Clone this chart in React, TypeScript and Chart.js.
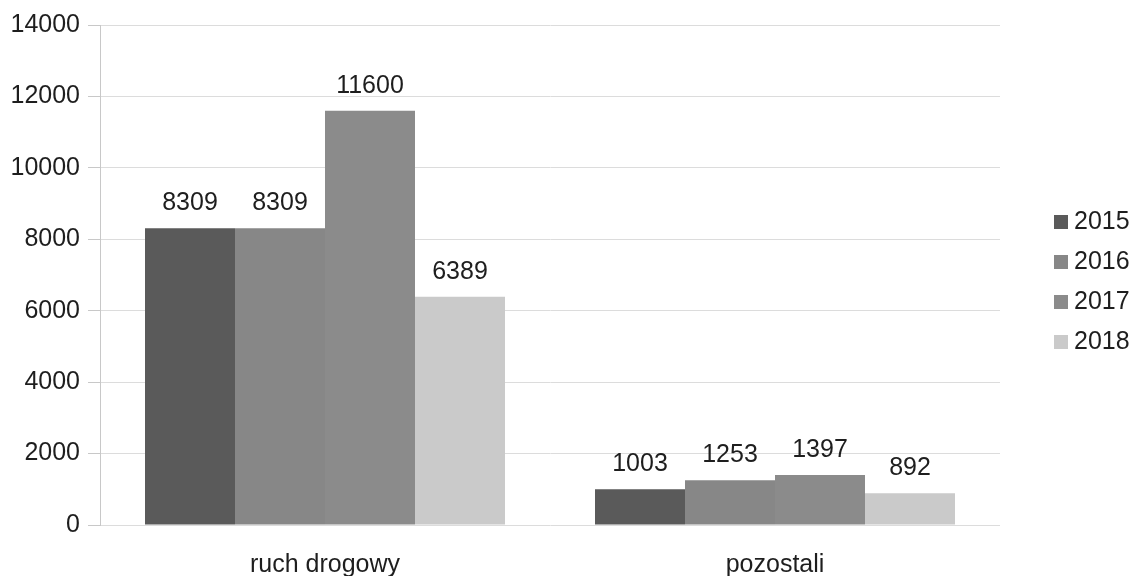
import React, { useEffect, useRef } from "react";
import { Chart, registerables } from "chart.js";

Chart.register(...registerables);

const categories = ["ruch drogowy", "pozostali"];
const seriesNames = ["2015", "2016", "2017", "2018"];
const values2015 = [8309, 1003];
const values2016 = [8309, 1253];
const values2017 = [11600, 1397];
const values2018 = [6389, 892];
const seriesColors = ["#5a5a5a", "#878787", "#8b8b8b", "#cacaca"];
const yTicks = [0, 2000, 4000, 6000, 8000, 10000, 12000, 14000];

const FONT = "'Liberation Sans', Arial, sans-serif";
const FONT_SIZE = 25;

const dataLabelPlugin = {
  id: "dataLabels",
  afterDatasetsDraw(chart: any) {
    const ctx = chart.ctx;
    ctx.save();
    ctx.font = `${FONT_SIZE}px ${FONT}`;
    ctx.fillStyle = "#1e1e1e";
    ctx.textAlign = "center";
    ctx.textBaseline = "middle";
    chart.data.datasets.forEach((ds: any, i: number) => {
      const meta = chart.getDatasetMeta(i);
      meta.data.forEach((el: any, j: number) => {
        ctx.fillText(String(ds.data[j]), el.x, el.y - 25);
      });
    });
    ctx.restore();
  },
};

const legendPlugin = {
  id: "customLegend",
  afterDraw(chart: any) {
    const ctx = chart.ctx;
    ctx.save();
    ctx.font = `${FONT_SIZE}px ${FONT}`;
    ctx.textAlign = "left";
    ctx.textBaseline = "middle";
    const x0 = chart.chartArea.right + 54;
    const yStart = 222;
    const step = 40;
    chart.data.datasets.forEach((ds: any, i: number) => {
      const y = yStart + i * step;
      ctx.fillStyle = ds.backgroundColor;
      ctx.fillRect(x0, y - 7, 14, 14);
      ctx.fillStyle = "#1e1e1e";
      ctx.fillText(ds.label, x0 + 20, y);
    });
    ctx.restore();
  },
};

export default function App() {
  const canvasRef = useRef<HTMLCanvasElement | null>(null);

  useEffect(() => {
    if (!canvasRef.current) return;
    const seriesValues = [values2015, values2016, values2017, values2018];
    const chart = new Chart(canvasRef.current, {
      type: "bar",
      data: {
        labels: categories,
        datasets: seriesNames.map((name, i) => ({
          label: name,
          data: seriesValues[i],
          backgroundColor: seriesColors[i],
          borderWidth: 0,
          barPercentage: 1,
          categoryPercentage: 0.8,
        })),
      },
      options: {
        animation: false,
        responsive: true,
        maintainAspectRatio: false,
        devicePixelRatio: 1,
        layout: { padding: { left: 12, right: 141, top: 25, bottom: 0 } },
        plugins: {
          legend: { display: false },
          tooltip: { enabled: false },
        },
        scales: {
          x: {
            grid: { display: false, drawTicks: false },
            border: { display: false },
            afterFit(scale: any) {
              scale.height = 51;
            },
            ticks: {
              color: "#1e1e1e",
              padding: 28,
              font: { family: FONT, size: FONT_SIZE, lineHeight: 1 },
            },
          },
          y: {
            min: 0,
            max: 14000,
            afterBuildTicks(scale: any) {
              scale.ticks = yTicks.map((v) => ({ value: v }));
            },
            afterFit(scale: any) {
              scale.width = 88;
            },
            grid: {
              color: "#dcdcdc",
              lineWidth: 1,
              tickLength: 12,
              tickColor: "#c8c8c8",
            },
            border: { display: true, color: "#c8c8c8" },
            ticks: {
              color: "#1e1e1e",
              padding: 8,
              callback: (v: any) => String(v),
              font: { family: FONT, size: FONT_SIZE, lineHeight: 1 },
            },
          },
        },
      },
      plugins: [dataLabelPlugin, legendPlugin],
    });
    return () => chart.destroy();
  }, []);

  return (
    <div
      style={{
        position: "fixed",
        left: 0,
        top: 0,
        width: 1141,
        height: 576,
        background: "#ffffff",
      }}
    >
      <canvas ref={canvasRef} />
    </div>
  );
}
